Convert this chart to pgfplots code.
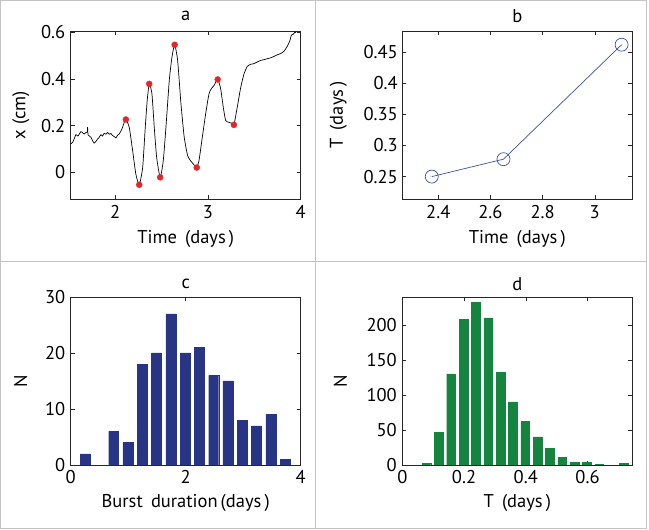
\documentclass[border=0pt]{standalone}
\usepackage{fontspec}
\setmainfont{PT Sans}
\usepackage{pgfplots}
\pgfplotsset{compat=1.18}

\definecolor{framegray}{HTML}{C4C4C4}
\definecolor{navy}{HTML}{283585}
\definecolor{grn}{HTML}{14843F}
\definecolor{lineblue}{HTML}{3F51A8}
\definecolor{dotred}{HTML}{E4262B}

\newcommand{\fs}{\fontsize{18.5}{22}\selectfont}

\pgfplotsset{
  panel/.style={
    scale only axis, width=230pt, height=168pt, anchor=south west,
    /pgf/number format/assume math mode=true,
    axis line style={black!85, line width=0.6pt},
    tick align=inside, major tick length=4pt,
    tick style={black!85, line width=0.5pt},
    every tick label/.append style={font=\fs},
    xticklabel style={yshift=-3pt},
    yticklabel style={xshift=-2pt},
    every axis title/.style={at={([yshift=15pt]axis description cs:0.5,1)}, anchor=center, font=\fs},
    every axis x label/.style={at={([yshift=-40pt]axis description cs:0.5,0)}, anchor=center, font=\fs},
    every axis y label/.style={at={([xshift=-50pt]axis description cs:0,0.5)}, anchor=center, rotate=90, font=\fs},
  },
}

\begin{document}
\begin{tikzpicture}[x=1pt,y=1pt]
\path[use as bounding box] (0,0) rectangle (649,530);
\draw[framegray, line width=1.1pt] (0.6,1.2) rectangle (646.3,529.4);
\draw[framegray, line width=1.1pt] (315.7,1.2) -- (315.7,529.4);
\draw[framegray, line width=1.1pt] (0.6,268.5) -- (646.3,268.5);

% a
\begin{axis}[panel, at={(70.7pt,331pt)},
  xmin=1.52, xmax=4.0, ymin=-0.115, ymax=0.606,
  xtick={2,3,4}, ytick={0,0.2,0.4,0.6},
  title={a}, xlabel={Time\;\,(days\,)}, ylabel={x\;(cm)}]
\addplot[black, line width=0.7pt, smooth, tension=0.35] coordinates {
(1.519,0.121)(1.544,0.130)(1.576,0.161)(1.598,0.155)(1.630,0.174)(1.652,0.168)
(1.666,0.164)(1.684,0.170)(1.698,0.172)(1.702,0.193)(1.708,0.160)(1.738,0.150)
(1.773,0.125)(1.810,0.142)(1.824,0.148)(1.846,0.161)(1.862,0.155)(1.881,0.167)
(1.900,0.163)(1.918,0.170)(1.937,0.163)(1.954,0.166)(1.970,0.158)(1.989,0.153)
(2.008,0.147)(2.024,0.158)(2.043,0.164)(2.072,0.185)(2.097,0.214)(2.115,0.226)
(2.151,0.193)(2.188,0.092)(2.223,-0.009)(2.259,-0.054)(2.296,0.020)(2.324,0.193)
(2.345,0.308)(2.367,0.379)(2.396,0.336)(2.421,0.193)(2.447,0.063)(2.485,-0.022)
(2.518,0.049)(2.547,0.193)(2.583,0.394)(2.612,0.494)(2.641,0.547)(2.673,0.480)
(2.709,0.293)(2.744,0.150)(2.781,0.071)(2.813,0.049)(2.849,0.032)(2.878,0.020)
(2.903,0.049)(2.939,0.150)(2.975,0.250)(3.011,0.336)(3.036,0.358)(3.065,0.372)
(3.105,0.398)(3.137,0.358)(3.165,0.279)(3.191,0.222)(3.226,0.214)(3.256,0.210)
(3.280,0.203)(3.316,0.279)(3.353,0.363)(3.388,0.421)(3.424,0.454)(3.461,0.463)
(3.496,0.466)(3.532,0.473)(3.569,0.480)(3.604,0.483)(3.640,0.487)(3.676,0.491)
(3.712,0.497)(3.748,0.504)(3.784,0.509)(3.820,0.519)(3.855,0.540)(3.885,0.566)
(3.899,0.588)(3.920,0.592)(3.939,0.602)(3.950,0.598)};
\addplot[only marks, mark=*, mark size=3pt, dotred, mark options={draw=dotred, fill=dotred}] coordinates {
(2.115,0.226)(2.259,-0.054)(2.367,0.379)(2.485,-0.022)(2.641,0.547)(2.879,0.020)(3.105,0.398)(3.280,0.203)};
\end{axis}

% b
\begin{axis}[panel, at={(402.3pt,331pt)},
  xmin=2.262, xmax=3.144, ymin=0.214, ymax=0.484,
  xtick={2.4,2.6,2.8,3}, ytick={0.25,0.3,0.35,0.4,0.45},
  yticklabel style={xshift=1pt},
  every axis y label/.style={at={([xshift=-64pt]axis description cs:0,0.5)}, anchor=center, rotate=90, font=\fs},
  title={b}, xlabel={Time\;\,(days\,)}, ylabel={T\;\,(days\,)}]
\addplot[lineblue, line width=0.7pt, mark=o, mark size=6.5pt, mark options={line width=0.7pt}] coordinates {
(2.375,0.250)(2.650,0.278)(3.103,0.462)};
\end{axis}

% c
\begin{axis}[panel, at={(70.7pt,65pt)},
  xmin=0, xmax=4, ymin=0, ymax=30,
  xtick={0,2,4}, ytick={0,10,20,30},
  xticklabel style={yshift=1pt},
  every axis x label/.style={at={([yshift=-38pt]axis description cs:0.5,0)}, anchor=center, font=\fs},
  every axis title/.style={at={([yshift=13pt]axis description cs:0.5,1)}, anchor=center, font=\fs},
  title={c}, xlabel={Burst\;\,duration\,(days\,)}, ylabel={N}]
\addplot[ybar, bar width=0.173, fill=navy, draw=navy, line width=0.3pt] coordinates {
(0.250,2)(0.747,6)(0.995,4)(1.244,18)(1.492,20)(1.741,27)(1.989,20)
(2.238,21)(2.487,16)(2.735,15)(2.984,8)(3.232,7)(3.481,9)(3.730,1)};
\end{axis}

% d
\begin{axis}[panel, at={(402.3pt,65pt)},
  xmin=0, xmax=0.745, ymin=0, ymax=240,
  xtick={0,0.2,0.4,0.6}, ytick={0,50,100,150,200},
  xticklabel style={yshift=1pt},
  every axis x label/.style={at={([yshift=-38pt]axis description cs:0.5,0)}, anchor=center, font=\fs},
  every axis title/.style={at={([yshift=13pt]axis description cs:0.5,1)}, anchor=center, font=\fs},
  every axis y label/.style={at={([xshift=-62pt]axis description cs:0,0.5)}, anchor=center, rotate=90, font=\fs},
  title={d}, xlabel={T\;\,(days\,)}, ylabel={N}]
\addplot[ybar, bar width=0.0282, fill=grn, draw=grn, line width=0.3pt] coordinates {
(0.078,2)(0.118,47)(0.158,130)(0.198,208)(0.238,232)(0.278,210)(0.318,132)
(0.358,90)(0.398,62)(0.438,40)(0.478,24)(0.518,11)(0.558,4)(0.598,4)
(0.638,1)(0.718,2)};
\end{axis}
\end{tikzpicture}
\end{document}
